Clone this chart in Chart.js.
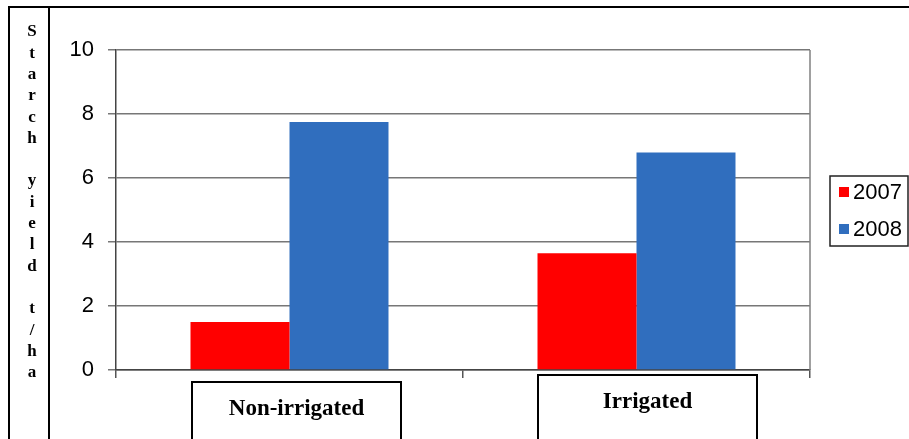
<!DOCTYPE html>
<html>
<head>
<meta charset="utf-8">
<script src="https://cdn.jsdelivr.net/npm/chart.js@4.4.1/dist/chart.umd.min.js"></script>
<style>
  html, body { margin: 0; padding: 0; background: #fff; }
  canvas { display: block; }
</style>
</head>
<body>
<canvas id="c" width="909" height="439"></canvas>
<script>
// Starch yield (t/ha) by irrigation treatment, two seasons
const categories = ['Non-irrigated', 'Irrigated'];
const seriesNames = ['2007', '2008'];
const yield2007 = [1.5, 3.65];
const yield2008 = [7.75, 6.8];
const yTicks = [0, 2, 4, 6, 8, 10];
const yTitle = 'Starch yield t/ha';

const seriesColors = ['#FF0000', '#306EBE'];

// Boxed category captions under the axis (offset from category centre, width, top)
const captionBoxes = [
  { dx: 7, w: 209, top: 382 },
  { dx: 11, w: 219, top: 375 }
];

const decorations = {
  id: 'decorations',
  afterDraw(chart) {
    const ctx = chart.ctx;
    const area = chart.chartArea;
    const xs = chart.scales.x;
    ctx.save();

    // outer frame line and the title box
    ctx.strokeStyle = '#000';
    ctx.lineWidth = 2;
    ctx.beginPath();
    ctx.moveTo(9, 7);
    ctx.lineTo(909, 7);
    ctx.stroke();
    ctx.strokeRect(9, 7, 40, 450);

    // vertical stacked axis title
    ctx.fillStyle = '#000';
    ctx.font = 'bold 17px "Liberation Serif"';
    ctx.textAlign = 'center';
    ctx.textBaseline = 'middle';
    const chars = [];
    yTitle.split(' ').forEach((w, i) => {
      if (i > 0) chars.push('');
      for (const ch of w) chars.push(ch);
    });
    chars.forEach((ch, i) => {
      if (ch) ctx.fillText(ch, 32, 32 + i * 21.3);
    });

    // right border of the plot
    ctx.strokeStyle = '#808080';
    ctx.lineWidth = 1.5;
    ctx.beginPath();
    ctx.moveTo(area.right, area.top);
    ctx.lineTo(area.right, area.bottom);
    ctx.stroke();

    // boxed category captions
    ctx.font = 'bold 23px "Liberation Serif"';
    categories.forEach((cat, i) => {
      const b = captionBoxes[i];
      const cx = xs.getPixelForValue(i) + b.dx;
      ctx.strokeStyle = '#000';
      ctx.lineWidth = 2;
      ctx.strokeRect(cx - b.w / 2, b.top, b.w, 100);
      ctx.fillStyle = '#000';
      ctx.fillText(xs.getLabelForValue(i), cx, b.top + 27);
    });

    // legend box
    const lx = 830, ly = 176, lw = 78, lh = 70;
    ctx.strokeStyle = '#222';
    ctx.lineWidth = 1.5;
    ctx.strokeRect(lx, ly, lw, lh);
    ctx.font = '22px "Liberation Sans"';
    ctx.textAlign = 'left';
    chart.data.datasets.forEach((ds, i) => {
      const cy = ly + 16 + i * 37;
      ctx.fillStyle = ds.backgroundColor;
      ctx.fillRect(lx + 9, cy - 5, 10, 10);
      ctx.fillStyle = '#000';
      ctx.fillText(ds.label, lx + 23, cy + 1);
    });

    ctx.restore();
  }
};

new Chart(document.getElementById('c'), {
  type: 'bar',
  data: {
    labels: categories,
    datasets: [
      { label: seriesNames[0], data: yield2007, backgroundColor: seriesColors[0] },
      { label: seriesNames[1], data: yield2008, backgroundColor: seriesColors[1] }
    ]
  },
  options: {
    responsive: false,
    devicePixelRatio: 1,
    animation: false,
    layout: { padding: { left: 55, top: 50, right: 99, bottom: 0 } },
    datasets: {
      bar: { categoryPercentage: 0.5706, barPercentage: 1.0, borderWidth: 0 }
    },
    plugins: {
      legend: { display: false },
      tooltip: { enabled: false }
    },
    scales: {
      x: {
        offset: true,
        ticks: { display: false },
        grid: {
          drawOnChartArea: false,
          drawTicks: true,
          tickLength: 8,
          color: '#555',
          lineWidth: 1.5,
          offset: true
        },
        border: { display: true, color: '#444', width: 1.5 },
        afterFit(scale) { scale.height = 69; }
      },
      y: {
        min: 0,
        max: 10,
        afterBuildTicks(scale) {
          scale.ticks = yTicks.map(v => ({ value: v }));
        },
        ticks: {
          color: '#000',
          padding: 14,
          font: { family: '"Liberation Sans", Arial, sans-serif', size: 22 }
        },
        grid: {
          color: '#777',
          lineWidth: 1.5,
          drawTicks: true,
          tickLength: 8
        },
        border: { display: true, color: '#444', width: 1.5 },
        afterFit(scale) { scale.width = 61; }
      }
    }
  },
  plugins: [decorations]
});
</script>
</body>
</html>
